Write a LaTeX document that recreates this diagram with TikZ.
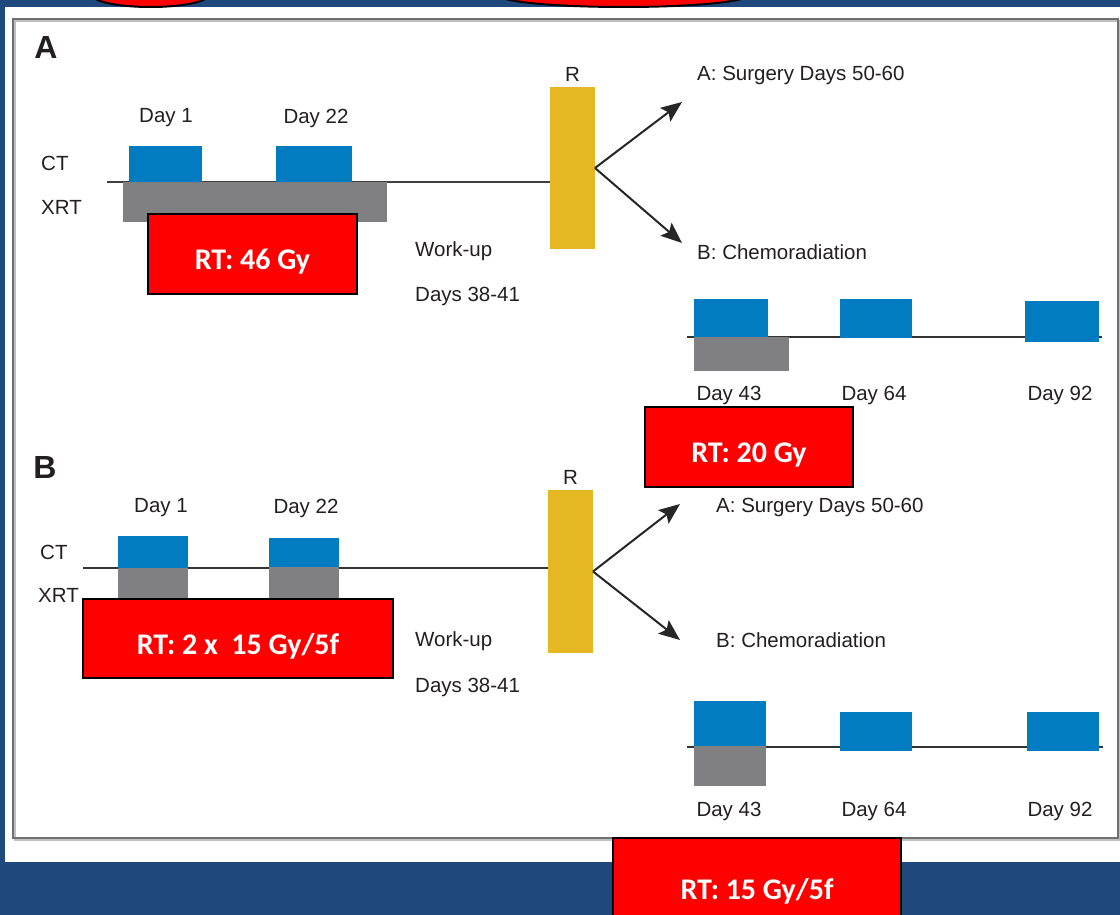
\documentclass[tikz,border=0pt]{standalone}
\usepackage{fontspec}
\setmainfont{Liberation Sans}
\newfontfamily\dosefamily{Carlito}
\usetikzlibrary{positioning,arrows.meta}

\definecolor{slideblue}{HTML}{1F497D}
\definecolor{ctblue}{HTML}{027CC1}
\definecolor{xrtgray}{HTML}{808082}
\definecolor{rgold}{HTML}{E5B821}
\definecolor{inkgray}{HTML}{231F20}
\definecolor{framegray}{HTML}{707070}

\tikzset{
  lbl/.style     = {font=\fontsize{20.5}{24}\selectfont, text=inkgray, inner sep=0pt},
  panel/.style   = {font=\fontsize{32}{36}\selectfont\bfseries, text=inkgray, inner sep=0pt},
  block/.style   = {rectangle, inner sep=0pt, outer sep=0pt, draw=none},
  ctbox/.style   = {block, fill=ctblue},
  xrtbox/.style  = {block, fill=xrtgray},
  randbox/.style = {block, fill=rgold},
  dosebox/.style = {rectangle, inner sep=0pt, fill=red, draw=black, line width=1.5pt,
                    text height=31pt, text depth=0pt,
                    text=white, font=\fontsize{30}{34}\dosefamily\bfseries},
  axis/.style    = {draw=black!75, line width=1.8pt},
  split/.style   = {draw=black!85, line width=2pt, -{Stealth[length=21pt,width=17pt,inset=4pt]}}
}

\begin{document}
\begin{tikzpicture}[x=1pt,y=-1pt]
 \useasboundingbox (0,0) rectangle (1120,915);
 \clip (0,0) rectangle (1120,915);

 % slide background and figure frame
 \fill[slideblue] (0,0) rectangle (1120,915);
 \fill[white] (5,7) rectangle (1130,862);
 \draw[black!25, line width=2pt] (15,21) rectangle (1120,840);
 \draw[framegray, line width=1.8pt] (13,19) rectangle (1118,838);
 \draw[fill=red, line width=2pt] (150.5,-5) ellipse [x radius=58, y radius=12];
 \draw[fill=red, line width=2pt] (623.5,-5) ellipse [x radius=125, y radius=12];

 % panel A
 \node[panel] (labA) at (46,47) {A};
 \node[lbl] (d1A) at (166,118) {Day 1};
 \node[lbl] (d22A) at (316,118) {Day 22};
 \node[lbl, anchor=west] (ctA) at (41,163) {CT};
 \node[lbl, anchor=west] (xrtA) at (41,207) {XRT};
 \node[randbox, minimum width=45pt, minimum height=162pt] (rA) at (572.5,168) {};
 \node[lbl, above=5pt of rA] (rlabA) {R};
 \coordinate (startA) at (107,182);
 \draw[axis] (startA) -- (startA -| rA.west);
 \node[xrtbox, minimum width=264pt, minimum height=40pt] (xrt1A) at (255,202) {};
 \node[ctbox, minimum width=73pt, minimum height=36pt] (ct1A) at (165.5,164) {};
 \node[ctbox, minimum width=76pt, minimum height=36pt] (ct2A) at (314,164) {};
 \node[dosebox, minimum width=209pt, minimum height=80pt] (doseA) at (252.5,254) {RT: 46 Gy};
 \node[lbl, anchor=west] (wuA) at (415,251) {Work-up};
 \node[lbl, anchor=west] (daysA) at (415,296) {Days 38-41};
 \node[lbl, anchor=west] (surgA) at (697,75) {A: Surgery Days 50-60};
 \node[lbl, anchor=west] (chemA) at (697,252) {B: Chemoradiation};
 \coordinate (upA) at (682,102);
 \coordinate (downA) at (682,243);
 \draw[split] (rA.east) -- (upA);
 \draw[split] (rA.east) -- (downA);

 \coordinate (tlA) at (687,337);
 \draw[axis, draw=black!80] (tlA) -- ++(415,0);
 \node[xrtbox, minimum width=95pt, minimum height=34pt] (xrt2A) at (741.5,354) {};
 \node[ctbox, minimum width=74pt, minimum height=38pt] (ct3A) at (731,318) {};
 \node[ctbox, minimum width=72pt, minimum height=39pt] (ct4A) at (876,318.5) {};
 \node[ctbox, minimum width=74pt, minimum height=41pt] (ct5A) at (1062,321.5) {};
 \node[lbl] (d43A) at (729,395) {Day 43};
 \node[lbl] (d64A) at (874,395) {Day 64};
 \node[lbl] (d92A) at (1060,395) {Day 92};
 \node[dosebox, minimum width=208pt, minimum height=80pt] (dose2A) at (749,447) {RT: 20 Gy};

 % panel B
 \node[panel] (labB) at (45,467) {B};
 \node[lbl] (d1B) at (161,508) {Day 1};
 \node[lbl] (d22B) at (306,508) {Day 22};
 \node[lbl, anchor=west] (ctB) at (40,552) {CT};
 \node[lbl, anchor=west] (xrtB) at (38,595) {XRT};
 \node[randbox, minimum width=45pt, minimum height=163pt] (rB) at (570.5,571.5) {};
 \node[lbl, above=5pt of rB] (rlabB) {R};
 \coordinate (startB) at (83,568);
 \draw[axis, draw=black!80] (startB) -- (startB -| rB.west);
 \node[ctbox, minimum width=70pt, minimum height=32pt] (ct1B) at (153,552) {};
 \node[ctbox, minimum width=70pt, minimum height=29pt] (ct2B) at (304,552.5) {};
 \node[xrtbox, minimum width=70pt, minimum height=32pt] (xrt1B) at (153,584) {};
 \node[xrtbox, minimum width=70pt, minimum height=33pt] (xrt2B) at (304,583.5) {};
 \node[dosebox, minimum width=310pt, minimum height=79pt] (doseB) at (238,638.5) {RT: 2 x~ 15 Gy/5f};
 \node[lbl, anchor=west] (wuB) at (415,641) {Work-up};
 \node[lbl, anchor=west] (daysB) at (415,687) {Days 38-41};
 \node[lbl, anchor=west] (surgB) at (716,507) {A: Surgery Days 50-60};
 \node[lbl, anchor=west] (chemB) at (716,640) {B: Chemoradiation};
 \coordinate (upB) at (680,504);
 \coordinate (downB) at (680,640);
 \draw[split] (rB.east) -- (upB);
 \draw[split] (rB.east) -- (downB);

 \coordinate (tlB) at (687,747);
 \draw[axis, draw=black!80] (tlB) -- ++(416,0);
 \node[ctbox, minimum width=72pt, minimum height=45pt] (ct3B) at (730,723.5) {};
 \node[xrtbox, minimum width=72pt, minimum height=40pt] (xrt3B) at (730,766) {};
 \node[ctbox, minimum width=72pt, minimum height=39pt] (ct4B) at (876,731.5) {};
 \node[ctbox, minimum width=72pt, minimum height=39pt] (ct5B) at (1063,731.5) {};
 \node[lbl] (d43B) at (729,811) {Day 43};
 \node[lbl] (d64B) at (874,811) {Day 64};
 \node[lbl] (d92B) at (1060,811) {Day 92};
 \node[dosebox, minimum width=288pt, minimum height=92pt] (dose2B) at (757,884) {RT: 15 Gy/5f};
\end{tikzpicture}
\end{document}
